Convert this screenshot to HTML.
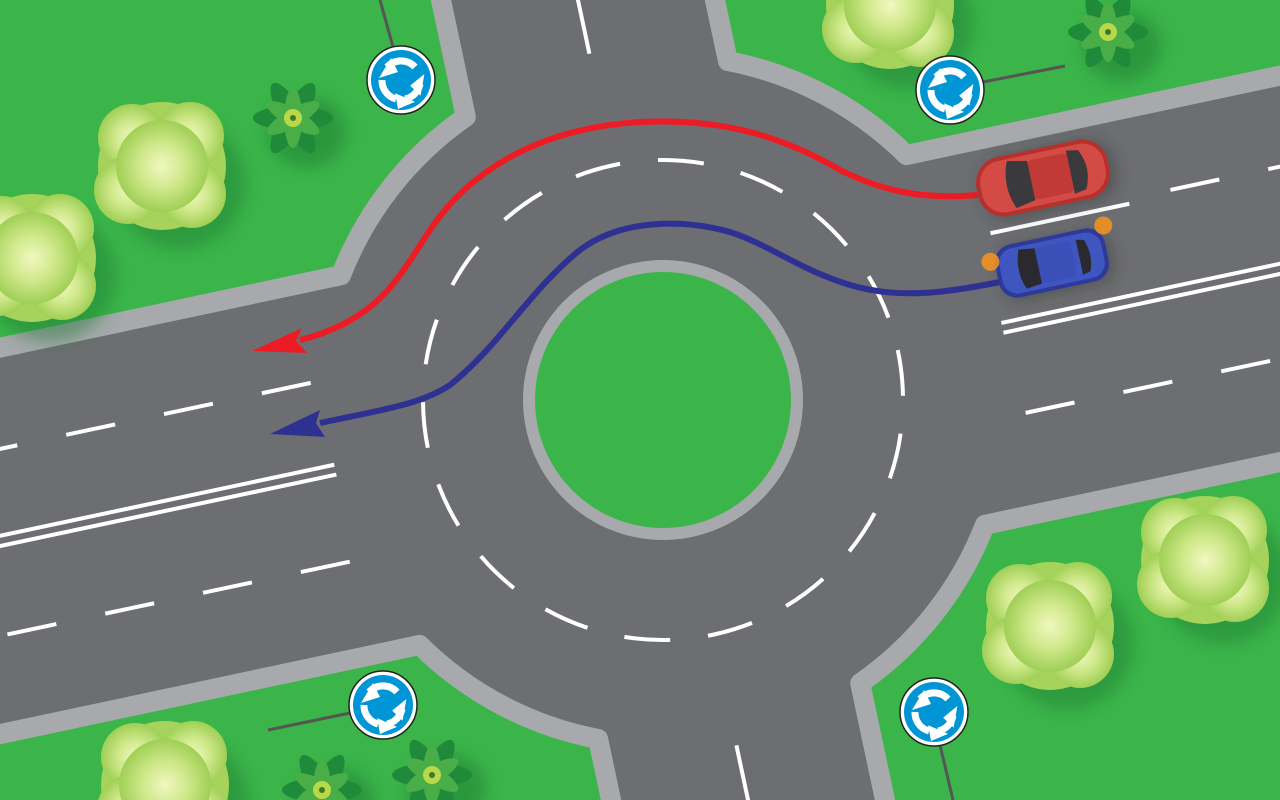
<!DOCTYPE html>
<html><head><meta charset="utf-8"><style>html,body{margin:0;padding:0;overflow:hidden;background:#6d6e71;width:1280px;height:800px}svg{display:block;position:absolute;left:0;top:0}</style></head>
<body>
<svg width="1280" height="800" viewBox="0 0 1280 800" xmlns="http://www.w3.org/2000/svg" overflow="hidden">
<defs>
<clipPath id="cp"><rect width="1280" height="800"/></clipPath>
<radialGradient id="tg" cx="50%" cy="50%" r="50%">
<stop offset="0" stop-color="#f1f8c0"/><stop offset="0.5" stop-color="#cfe88a"/><stop offset="1" stop-color="#9fcf55"/>
</radialGradient>
<filter id="bl" x="-50%" y="-50%" width="200%" height="200%"><feGaussianBlur stdDeviation="8"/></filter>
<g id="tree">
<circle cx="18" cy="18" r="66" fill="#1f7a30" opacity="0.45" filter="url(#bl)"/>
<circle cx="0" cy="0" r="64" fill="#a6d35c"/>
<circle cx="-30" cy="-28" r="34" fill="url(#tg)"/><circle cx="28" cy="-30" r="34" fill="url(#tg)"/>
<circle cx="-34" cy="24" r="34" fill="url(#tg)"/><circle cx="30" cy="28" r="34" fill="url(#tg)"/>
<circle cx="0" cy="0" r="46" fill="url(#tg)"/>
</g>
<g id="bush">
<ellipse cx="14" cy="14" rx="40" ry="36" fill="#1f7a30" opacity="0.5" filter="url(#bl)"/>
<g fill="#1e8a3a"><ellipse rx="40" ry="12"/><ellipse rx="40" ry="12" transform="rotate(60)"/><ellipse rx="40" ry="12" transform="rotate(120)"/></g>
<g fill="#4aae48"><ellipse rx="30" ry="9" transform="rotate(30)"/><ellipse rx="30" ry="9" transform="rotate(90)"/><ellipse rx="30" ry="9" transform="rotate(150)"/></g>
<circle r="9" fill="#b8d84a"/><circle r="3" fill="#3a7a2a"/>
</g>
<g id="sign">
<circle r="34" fill="#fff" stroke="#222" stroke-width="1.5"/>
<circle r="30" fill="#0096d6"/>
<g fill="none" stroke="#fff" stroke-width="7">
<path d="M-14,-13 A19,19 0 0,1 14,-13"/>
<path d="M19,4 A19,19 0 0,1 4,19" />
<path d="M-5,19 A19,19 0 0,1 -19,0"/>
</g>
<g fill="#fff">
<polygon points="-22,-2 -10,-22 -3,-8"/>
<polygon points="22,-10 22,12 10,4" transform="rotate(10)"/>
<polygon points="-8,12 10,24 -8,28" transform="rotate(-10)"/>
</g>
</g>
</defs>
<g clip-path="url(#cp)">
<rect width="1280" height="800" fill="#6d6e71"/>
<g transform="translate(663,400) rotate(-12)">
<g fill="#3bb54a" stroke="#a7a9ac" stroke-width="20" stroke-linejoin="round">
<path d="M134,-1200 L134,-318 A345,345 0 0,1 289,-189 L1200,-189 L1200,-1200Z"/>
<path d="M1200,189 L289,189 A345,345 0 0,1 134,318 L134,1200 L1200,1200Z"/>
<path d="M-134,1200 L-134,318 A345,345 0 0,1 -289,189 L-1200,189 L-1200,1200Z"/>
<path d="M-1200,-189 L-289,-189 A345,345 0 0,1 -134,-318 L-134,-1200 L-1200,-1200Z"/>
</g>
<circle r="140" fill="#a7a9ac"/><circle r="128" fill="#3bb54a"/>
<circle r="240" fill="none" stroke="#fff" stroke-width="4" stroke-dasharray="46 38"/>
<g stroke="#fff" stroke-width="4" fill="none">
<line x1="355" y1="-95" x2="497" y2="-95"/>
<line x1="540" y1="-100" x2="900" y2="-100" stroke-dasharray="50 50"/>
<line x1="347" y1="-5" x2="900" y2="-5"/><line x1="347" y1="5" x2="900" y2="5"/>
<line x1="352" y1="88" x2="900" y2="88" stroke-dasharray="50 50"/>
<line x1="-341" y1="-90" x2="-900" y2="-90" stroke-dasharray="50 50"/>
<line x1="-335" y1="-5" x2="-900" y2="-5"/><line x1="-335" y1="5" x2="-900" y2="5"/>
<line x1="-340" y1="93" x2="-900" y2="93" stroke-dasharray="50 50"/>
<line x1="0" y1="-354" x2="0" y2="-700" stroke-dasharray="58 60"/>
<line x1="0" y1="353" x2="0" y2="700" stroke-dasharray="58 60"/>
</g>
</g>

<use href="#tree" x="162" y="166"/>
<use href="#tree" x="32" y="258"/>
<use href="#tree" x="890" y="5"/>
<use href="#tree" x="1050" y="626"/>
<use href="#tree" x="1205" y="560"/>
<use href="#tree" x="165" y="785"/>
<use href="#bush" x="293" y="118"/>
<use href="#bush" x="1108" y="32"/>
<use href="#bush" x="432" y="775"/>
<use href="#bush" x="322" y="790"/>

<g stroke="#555" stroke-width="3">
<line x1="393" y1="47" x2="380" y2="0"/>
<line x1="983" y1="82" x2="1065" y2="66"/>
<line x1="350" y1="713" x2="268" y2="730"/>
<line x1="940" y1="745" x2="953" y2="800"/>
</g>
<use href="#sign" x="401" y="80"/>
<use href="#sign" x="950" y="90"/>
<use href="#sign" x="383" y="705"/>
<use href="#sign" x="934" y="712"/>

<path d="M978,195 C920,200 880,190 840,170 C780,135 720,118 640,122 C540,128 470,170 430,230 C400,275 380,320 300,340" fill="none" stroke="#ed1c24" stroke-width="6"/>
<polygon points="252,351 302,328 296,341 307,353" fill="#ed1c24"/>
<path d="M1000,282 C950,292 900,300 850,285 C800,270 770,245 730,232 C680,218 620,220 580,250 C530,290 500,345 450,385 C420,405 380,410 320,423" fill="none" stroke="#2e3192" stroke-width="6"/>
<polygon points="270,434 320,410 316,423 325,437" fill="#2e3192"/>

<g transform="translate(1043,178) rotate(-12)">
<rect x="-62" y="-28" width="134" height="62" rx="26" fill="#222" opacity="0.35" filter="url(#bl)"/>
<rect x="-67" y="-30" width="134" height="60" rx="26" fill="#b8302c"/>
<rect x="-63" y="-26" width="126" height="52" rx="22" fill="#d44a44"/>
<path d="M-32,-24 L-12,-20 L-12,20 L-32,24 Q-42,0 -32,-24Z" fill="#3a3a3c"/>
<path d="M28,-22 L40,-20 Q50,0 40,20 L28,22 Z" fill="#3a3a3c"/>
<rect x="-12" y="-20" width="40" height="40" rx="4" fill="#c23a36"/>
</g>
<g transform="translate(1052,263) rotate(-12)">
<rect x="-52" y="-24" width="112" height="54" rx="18" fill="#222" opacity="0.35" filter="url(#bl)"/>
<rect x="-56" y="-27" width="112" height="54" rx="18" fill="#2e3a9a"/>
<rect x="-52" y="-23" width="104" height="46" rx="15" fill="#3f55c0"/>
<path d="M-30,-20 L-14,-18 L-14,18 L-30,20 Q-38,0 -30,-20Z" fill="#2a2a2e"/>
<rect x="-14" y="-18" width="36" height="36" rx="4" fill="#3a4fb8"/>
<path d="M28,-18 L36,-16 Q42,0 36,16 L28,18Z" fill="#2a2a2e"/>
<circle cx="-60" cy="-14" r="9" fill="#f7941d" opacity="0.85"/>
<circle cx="58" cy="-26" r="9" fill="#f7941d" opacity="0.85"/>
</g>
</g>
</svg>
</body></html>
